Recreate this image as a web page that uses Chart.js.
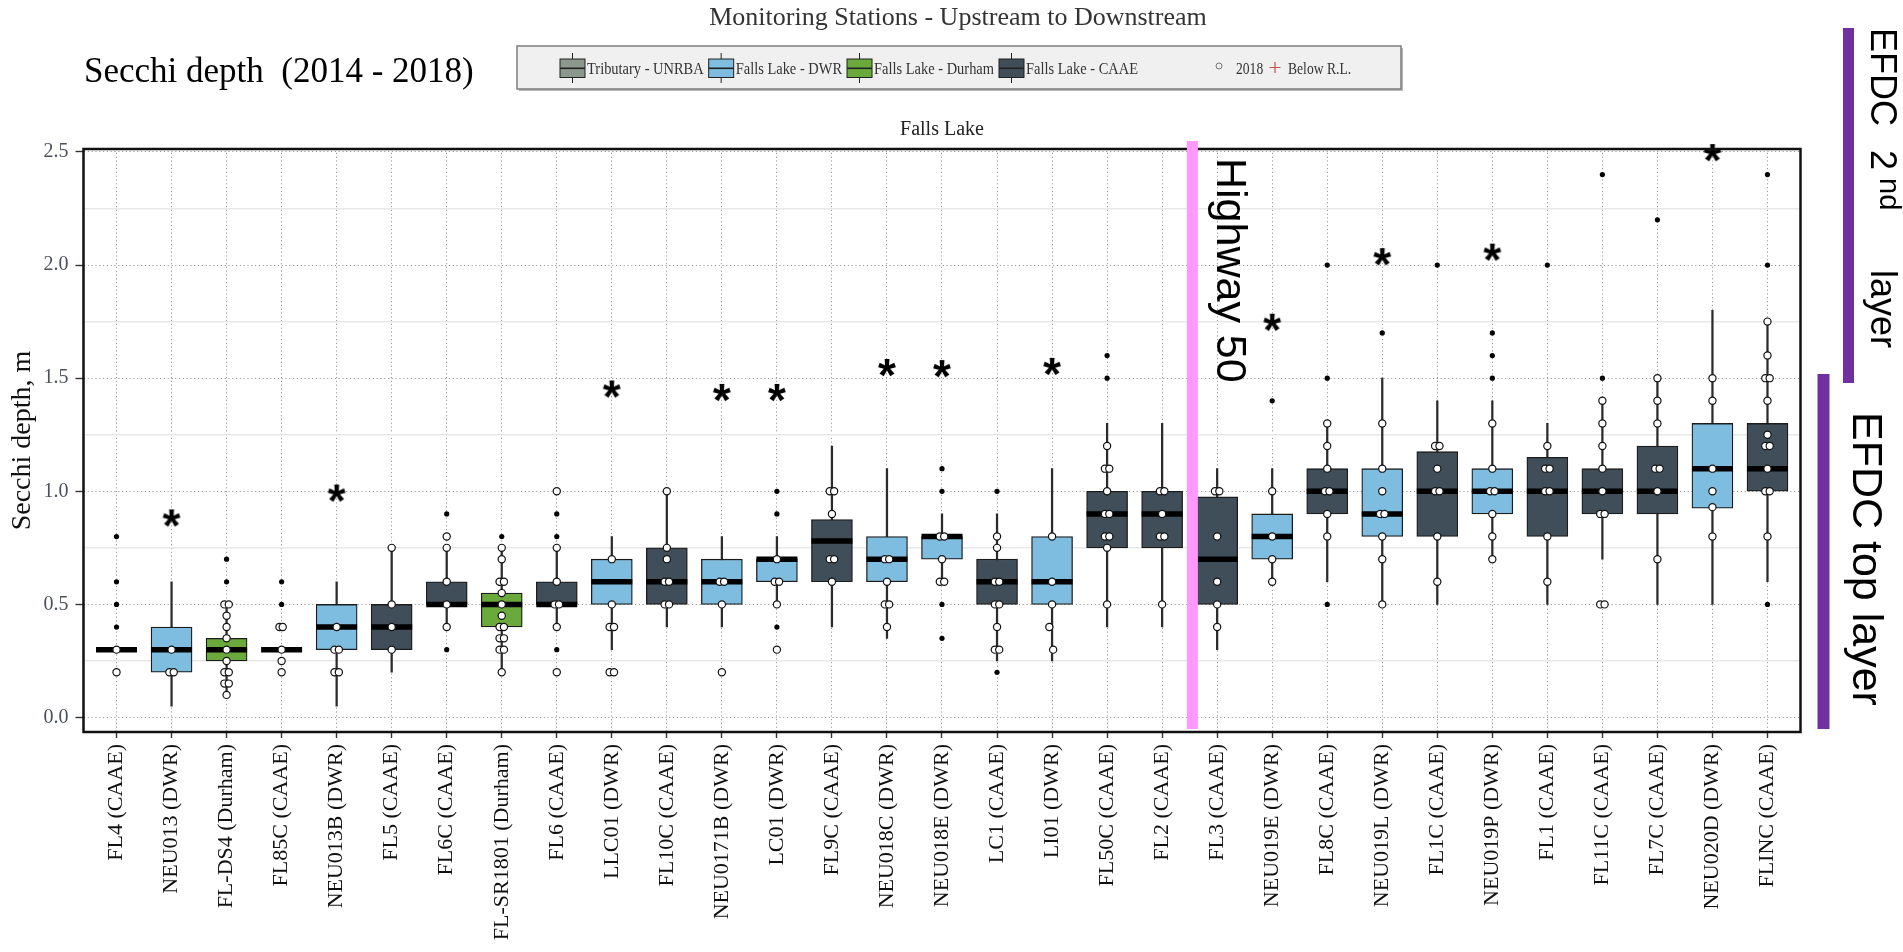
<!DOCTYPE html>
<html lang="en">
<head>
<meta charset="UTF-8">
<title>Secchi depth (2014 - 2018)</title>
<script src="https://cdn.jsdelivr.net/npm/chart.js"></script>
<style>
  html, body { margin: 0; padding: 0; background: #fff; }
  #wrap { width: 1903px; height: 952px; position: relative; }
</style>
</head>
<body>
<div id="wrap"><canvas id="secchiChart"></canvas></div>
<script>
// monitoring stations, upstream to downstream
const stations = ['FL4 (CAAE)', 'NEU013 (DWR)', 'FL-DS4 (Durham)', 'FL85C (CAAE)', 'NEU013B (DWR)',
  'FL5 (CAAE)', 'FL6C (CAAE)', 'FL-SR1801 (Durham)', 'FL6 (CAAE)', 'LLC01 (DWR)', 'FL10C (CAAE)',
  'NEU0171B (DWR)', 'LC01 (DWR)', 'FL9C (CAAE)', 'NEU018C (DWR)', 'NEU018E (DWR)', 'LC1 (CAAE)',
  'LI01 (DWR)', 'FL50C (CAAE)', 'FL2 (CAAE)', 'FL3 (CAAE)', 'NEU019E (DWR)', 'FL8C (CAAE)',
  'NEU019L (DWR)', 'FL1C (CAAE)', 'NEU019P (DWR)', 'FL1 (CAAE)', 'FL11C (CAAE)', 'FL7C (CAAE)',
  'NEU020D (DWR)', 'FLINC (CAAE)'];
const agency = ['CAAE', 'DWR', 'Durham', 'CAAE', 'DWR', 'CAAE', 'CAAE', 'Durham', 'CAAE', 'DWR', 'CAAE',
  'DWR', 'DWR', 'CAAE', 'DWR', 'DWR', 'CAAE', 'DWR', 'CAAE', 'CAAE', 'CAAE', 'DWR', 'CAAE',
  'DWR', 'CAAE', 'DWR', 'CAAE', 'CAAE', 'CAAE', 'DWR', 'CAAE'];

// box statistics, m
const q1 =          [0.3, 0.2, 0.25, 0.3, 0.3, 0.3, 0.5, 0.4, 0.5, 0.5, 0.5, 0.5, 0.6, 0.6, 0.6, 0.7, 0.5, 0.5, 0.75, 0.75, 0.5, 0.7, 0.9, 0.8, 0.8, 0.9, 0.8, 0.9, 0.9, 0.925, 1.0];
const median =      [0.3, 0.3, 0.3, 0.3, 0.4, 0.4, 0.5, 0.5, 0.5, 0.6, 0.6, 0.6, 0.7, 0.78, 0.7, 0.8, 0.6, 0.6, 0.9, 0.9, 0.7, 0.8, 1.0, 0.9, 1.0, 1.0, 1.0, 1.0, 1.0, 1.1, 1.1];
const q3 =          [0.3, 0.4, 0.35, 0.3, 0.5, 0.5, 0.6, 0.55, 0.6, 0.7, 0.75, 0.7, 0.7, 0.875, 0.8, 0.8, 0.7, 0.8, 1.0, 1.0, 0.975, 0.9, 1.1, 1.1, 1.175, 1.1, 1.15, 1.1, 1.2, 1.3, 1.3];
const whiskerLow =  [0.3, 0.05, 0.1, 0.3, 0.05, 0.2, 0.4, 0.2, 0.4, 0.3, 0.4, 0.4, 0.5, 0.4, 0.35, 0.6, 0.25, 0.25, 0.4, 0.4, 0.3, 0.6, 0.6, 0.5, 0.5, 0.7, 0.5, 0.7, 0.5, 0.5, 0.6];
const whiskerHigh = [0.3, 0.6, 0.5, 0.3, 0.6, 0.75, 0.75, 0.75, 0.75, 0.8, 1.0, 0.8, 0.8, 1.2, 1.1, 0.9, 0.9, 1.1, 1.3, 1.3, 1.1, 1.1, 1.3, 1.5, 1.4, 1.4, 1.3, 1.4, 1.5, 1.8, 1.75];

// outliers [station index, value]
const outliers = [[0, 0.8], [0, 0.6], [0, 0.5], [0, 0.4], [2, 0.7], [2, 0.6], [3, 0.6], [3, 0.5],
  [6, 0.9], [6, 0.3], [7, 0.8], [8, 0.9], [8, 0.8], [8, 0.3], [12, 1.0], [12, 0.9], [12, 0.4],
  [15, 1.1], [15, 1.0], [15, 0.5], [15, 0.35], [16, 1.0], [16, 0.3], [16, 0.2], [18, 1.6], [18, 1.5],
  [21, 1.4], [22, 2.0], [22, 1.5], [22, 0.5], [23, 1.7], [24, 2.0], [25, 1.7], [25, 1.6], [25, 1.5],
  [26, 2.0], [27, 2.4], [27, 1.5], [28, 2.2], [30, 2.4], [30, 2.0], [30, 0.5]];

// 2018 samples [station position, value]
const samples2018 = [
  [0, 0.3], [0, 0.2],
  [1, 0.3], [0.96, 0.2], [1.04, 0.2],
  [1.96, 0.5], [2.04, 0.5], [2, 0.45], [2, 0.4], [2, 0.35], [2, 0.3], [2, 0.25], [1.96, 0.2], [2.04, 0.2], [1.96, 0.15], [2.04, 0.15], [2, 0.1],
  [2.96, 0.4], [3.02, 0.4], [3, 0.3], [3, 0.25], [3, 0.2],
  [4, 0.4], [3.96, 0.3], [4.04, 0.3], [3.96, 0.2], [4.04, 0.2],
  [5, 0.75], [5, 0.5], [5, 0.4], [5, 0.3],
  [6, 0.8], [6, 0.75], [6, 0.6], [6, 0.5], [6, 0.4],
  [7, 0.75], [7, 0.7], [6.96, 0.6], [7.04, 0.6], [7, 0.55], [7, 0.5], [7, 0.45], [6.96, 0.4], [7.04, 0.4], [6.96, 0.35], [7.04, 0.35], [6.96, 0.3], [7.04, 0.3], [7, 0.2],
  [8, 1.0], [8, 0.75], [8, 0.6], [7.96, 0.5], [8.04, 0.5], [8, 0.4], [8, 0.2],
  [9, 0.7], [9, 0.5], [8.96, 0.4], [9.04, 0.4], [8.96, 0.2], [9.04, 0.2],
  [10, 1.0], [10, 0.75], [10, 0.7], [9.96, 0.6], [10.04, 0.6], [9.96, 0.5], [10.04, 0.5],
  [10.96, 0.6], [11.04, 0.6], [11, 0.5], [11, 0.2],
  [12, 0.7], [11.96, 0.6], [12.04, 0.6], [12, 0.5], [12, 0.3],
  [12.96, 1.0], [13.04, 1.0], [13, 0.9], [12.96, 0.7], [13.04, 0.7], [13, 0.6],
  [13.96, 0.7], [14.04, 0.7], [14, 0.6], [13.96, 0.5], [14.04, 0.5], [14, 0.4],
  [14.96, 0.8], [15.04, 0.8], [15, 0.7], [14.96, 0.6], [15.04, 0.6],
  [16, 0.8], [16, 0.75], [15.96, 0.6], [16.04, 0.6], [15.96, 0.5], [16.04, 0.5], [16, 0.4], [15.96, 0.3], [16.04, 0.3],
  [17, 0.8], [17, 0.6], [17, 0.5], [16.95, 0.4], [17.02, 0.3],
  [18, 1.2], [17.96, 1.1], [18.04, 1.1], [18, 1.0], [17.96, 0.9], [18.04, 0.9], [17.96, 0.8], [18.04, 0.8], [18, 0.75], [18, 0.5],
  [18.96, 1.0], [19.04, 1.0], [19, 0.9], [18.96, 0.8], [19.04, 0.8], [19, 0.5],
  [19.96, 1.0], [20.04, 1.0], [20, 0.8], [20, 0.6], [20, 0.5], [20, 0.4],
  [21, 1.0], [21, 0.8], [21, 0.7], [21, 0.6],
  [22, 1.3], [22, 1.2], [22, 1.1], [21.96, 1.0], [22.04, 1.0], [22, 0.9], [22, 0.8],
  [23, 1.3], [23, 1.1], [23, 1.0], [22.96, 0.9], [23.04, 0.9], [23, 0.8], [23, 0.7], [23, 0.5],
  [23.96, 1.2], [24.04, 1.2], [24, 1.1], [23.96, 1.0], [24.04, 1.0], [24, 0.8], [24, 0.6],
  [25, 1.3], [25, 1.1], [24.96, 1.0], [25.04, 1.0], [25, 0.9], [25, 0.8], [25, 0.7],
  [26, 1.2], [25.96, 1.1], [26.04, 1.1], [25.96, 1.0], [26.04, 1.0], [26, 0.8], [26, 0.6],
  [27, 1.4], [27, 1.3], [27, 1.2], [27, 1.1], [27, 1.0], [26.96, 0.9], [27.04, 0.9], [26.96, 0.5], [27.04, 0.5],
  [28, 1.5], [28, 1.4], [28, 1.3], [27.96, 1.1], [28.04, 1.1], [28, 1.0], [28, 0.7],
  [29, 1.5], [29, 1.4], [29, 1.1], [29, 1.0], [29, 0.93], [29, 0.8],
  [30, 1.75], [30, 1.6], [29.96, 1.5], [30.04, 1.5], [30, 1.4], [30, 1.25], [29.96, 1.2], [30.04, 1.2], [30, 1.1], [29.96, 1.0], [30.04, 1.0], [30, 0.8]
];

// asterisk flags above DWR stations
const flagStations = [1, 4, 9, 11, 12, 14, 15, 17, 21, 23, 25, 29];
const flagLevels = [0.88, 0.99, 1.45, 1.435, 1.435, 1.545, 1.54, 1.55, 1.745, 2.035, 2.055, 2.495];

const yTicks = [0, 0.5, 1.0, 1.5, 2.0, 2.5];
const yMinorTicks = [0.25, 0.75, 1.25, 1.75, 2.25];
const highwayAt = 19.55;

const legendLabels = ['Tributary - UNRBA', 'Falls Lake - DWR', 'Falls Lake - Durham', 'Falls Lake - CAAE'];
const legendColors = ['#8a998c', '#7ebce0', '#6aaa3c', '#3f4e58'];
const agencyColors = { DWR: '#7ebce0', CAAE: '#3f4e58', Durham: '#6aaa3c' };

const SERIF = '"Liberation Serif", "Times New Roman", serif';
const SANS = '"Liberation Sans", Arial, sans-serif';

function makeAsterisk() {
  const c = document.createElement('canvas');
  c.width = 36; c.height = 36;
  const g = c.getContext('2d');
  g.font = 'bold 46px ' + SANS;
  const m = g.measureText('*');
  const w = m.actualBoundingBoxRight + m.actualBoundingBoxLeft;
  const h = m.actualBoundingBoxAscent + m.actualBoundingBoxDescent;
  g.fillStyle = '#000';
  g.fillText('*', 18 - w / 2 + m.actualBoundingBoxLeft, 18 - h / 2 + m.actualBoundingBoxAscent);
  return c;
}

function rotText(ctx, text, x, y, angle, font, color, align) {
  ctx.save();
  ctx.translate(x, y);
  ctx.rotate(angle);
  ctx.font = font;
  ctx.fillStyle = color;
  ctx.textAlign = align || 'left';
  ctx.textBaseline = 'alphabetic';
  ctx.fillText(text, 0, 0);
  ctx.restore();
}

function legendIcon(ctx, x, color) {
  ctx.strokeStyle = '#222';
  ctx.lineWidth = 1;
  ctx.beginPath(); ctx.moveTo(x + 12.5, 53); ctx.lineTo(x + 12.5, 83); ctx.stroke();
  ctx.fillStyle = color;
  ctx.fillRect(x, 59, 25, 18.5);
  ctx.strokeRect(x, 59, 25, 18.5);
  ctx.lineWidth = 1.6;
  ctx.beginPath(); ctx.moveTo(x, 68.3); ctx.lineTo(x + 25, 68.3); ctx.stroke();
}

function condensedText(ctx, text, x, y, font, color, sx) {
  ctx.save();
  ctx.translate(x, y);
  ctx.scale(sx, 1);
  ctx.font = font;
  ctx.fillStyle = color;
  ctx.textAlign = 'left';
  ctx.textBaseline = 'alphabetic';
  ctx.fillText(text, 0, 0);
  const w = ctx.measureText(text).width * sx;
  ctx.restore();
  return w;
}

const decor = {
  id: 'decor',
  afterDraw(chart) {
    const { ctx, chartArea: a, scales } = chart;
    ctx.save();

    // plot frame
    ctx.strokeStyle = '#111';
    ctx.lineWidth = 2.5;
    ctx.strokeRect(a.left, a.top, a.right - a.left, a.bottom - a.top);

    // titles
    ctx.textBaseline = 'alphabetic';
    ctx.fillStyle = '#333';
    ctx.font = '26px ' + SERIF;
    ctx.textAlign = 'center';
    ctx.fillText('Monitoring Stations - Upstream to Downstream', 958, 25);
    ctx.fillStyle = '#000';
    ctx.font = '35px ' + SERIF;
    ctx.textAlign = 'left';
    ctx.fillText('Secchi depth  (2014 - 2018)', 84, 82);
    ctx.fillStyle = '#222';
    ctx.font = '20px ' + SERIF;
    ctx.textAlign = 'center';
    ctx.fillText('Falls Lake', (a.left + a.right) / 2, 135);
    ctx.textAlign = 'left';
    rotText(ctx, 'Secchi depth, m', 30, (a.top + a.bottom) / 2, -Math.PI / 2, '28px ' + SERIF, '#111', 'center');

    // legend box
    ctx.fillStyle = '#b8b8b8';
    ctx.fillRect(519, 48, 884, 43);
    ctx.fillStyle = '#f0f0f0';
    ctx.fillRect(517, 46, 884, 43);
    ctx.strokeStyle = '#7d7d7d';
    ctx.lineWidth = 1.5;
    ctx.strokeRect(517, 46, 884, 43);
    let lx = 560;
    legendLabels.forEach((lab, k) => {
      legendIcon(ctx, lx, legendColors[k]);
      const w = condensedText(ctx, lab, lx + 27, 74, '17px ' + SERIF, '#333', 0.85);
      lx += 27 + w + 5;
    });
    ctx.strokeStyle = '#777';
    ctx.lineWidth = 1;
    ctx.beginPath(); ctx.arc(1219, 66, 3, 0, Math.PI * 2); ctx.stroke();
    condensedText(ctx, '2018', 1236, 74, '16px ' + SERIF, '#333', 0.85);
    ctx.strokeStyle = '#c0504d';
    ctx.lineWidth = 1.2;
    ctx.beginPath();
    ctx.moveTo(1275, 62); ctx.lineTo(1275, 73);
    ctx.moveTo(1269.5, 67.5); ctx.lineTo(1280.5, 67.5);
    ctx.stroke();
    condensedText(ctx, 'Below R.L.', 1288, 74, '16px ' + SERIF, '#333', 0.85);

    // Highway 50 marker
    const hx = scales.x.getPixelForValue(highwayAt);
    ctx.fillStyle = '#ff99ff';
    ctx.fillRect(hx - 5.5, a.top - 8, 11, a.bottom - a.top + 5);
    rotText(ctx, 'Highway 50', hx + 25, a.top + 9, Math.PI / 2, '43px ' + SANS, '#000');

    // EFDC layer markers
    ctx.fillStyle = '#7030a0';
    ctx.fillRect(1843, 28, 11, 355);
    ctx.fillRect(1817.5, 374, 12, 355);
    rotText(ctx, 'EFDC top layer', 1853, 412, Math.PI / 2, '43px ' + SANS, '#000');
    ctx.save();
    ctx.translate(1871, 28);
    ctx.rotate(Math.PI / 2);
    ctx.textAlign = 'left';
    ctx.textBaseline = 'alphabetic';
    ctx.fillStyle = '#000';
    ctx.font = '36px ' + SANS;
    ctx.fillText('EFDC', 0, 0);
    ctx.fillText('2', 122, 0);
    ctx.font = '29px ' + SANS;
    ctx.fillText('nd', 150, -9);
    ctx.font = '36px ' + SANS;
    ctx.fillText('layer', 242, 0);
    ctx.restore();

    ctx.restore();
  }
};

const dotted = [1.2, 2.6];

new Chart(document.getElementById('secchiChart'), {
  type: 'bar',
  data: {
    datasets: [
      {
        label: 'whisker',
        data: stations.map((_, i) => ({ x: i, y: [whiskerLow[i], whiskerHigh[i]] })),
        backgroundColor: '#2b2b2b',
        barThickness: 1.6,
        grouped: false,
        order: 5
      },
      {
        label: 'box',
        data: stations.map((_, i) => ({ x: i, y: [q1[i], q3[i]] })),
        backgroundColor: agency.map(a => agencyColors[a]),
        borderColor: '#1c1c1c',
        borderWidth: 1.3,
        borderSkipped: false,
        barThickness: 41,
        grouped: false,
        order: 4
      },
      {
        type: 'scatter',
        label: 'median',
        data: stations.map((_, i) => ({ x: i, y: median[i] })),
        pointStyle: 'line',
        pointRadius: 20.5,
        pointBorderColor: '#000',
        pointBorderWidth: 5.5,
        order: 3
      },
      {
        type: 'scatter',
        label: 'outlier',
        data: outliers.map(([x, y]) => ({ x, y })),
        pointRadius: 2.6,
        pointBackgroundColor: '#000',
        pointBorderColor: '#000',
        pointBorderWidth: 0,
        order: 2
      },
      {
        type: 'scatter',
        label: '2018',
        data: samples2018.map(([x, y]) => ({ x, y })),
        pointRadius: 3.6,
        pointBackgroundColor: '#fff',
        pointBorderColor: '#111',
        pointBorderWidth: 1.2,
        order: 1
      },
      {
        type: 'scatter',
        label: 'flag',
        data: flagStations.map((x, k) => ({ x, y: flagLevels[k] })),
        pointStyle: makeAsterisk(),
        pointRadius: 10,
        clip: false,
        order: 0
      }
    ]
  },
  options: {
    responsive: true,
    maintainAspectRatio: false,
    animation: false,
    events: [],
    layout: { padding: { top: 149, right: 102.5, bottom: 0, left: 0 } },
    plugins: {
      legend: { display: false },
      tooltip: { enabled: false }
    },
    scales: {
      x: {
        type: 'linear',
        min: -0.6,
        max: 30.6,
        offset: false,
        afterBuildTicks: s => { s.ticks = stations.map((_, i) => ({ value: i })); },
        afterFit: s => { s.height = 220; },
        grid: { offset: false, color: '#9a9a9a', lineWidth: 1, tickColor: '#333', tickLength: 6, tickWidth: 1.4 },
        border: { display: false, dash: dotted },
        ticks: {
          autoSkip: false,
          minRotation: 90,
          maxRotation: 90,
          padding: 6,
          color: '#111',
          font: { family: SERIF, size: 22 },
          callback: (v, i) => stations[i]
        }
      },
      y: {
        min: -0.064,
        max: 2.513,
        afterBuildTicks: s => { s.ticks = yTicks.map(v => ({ value: v })); },
        afterFit: s => { s.width = 83.5; },
        grid: { color: '#9a9a9a', lineWidth: 1, tickColor: '#333', tickLength: 8, tickWidth: 1.4 },
        border: { display: false, dash: dotted },
        ticks: {
          padding: 7,
          color: '#4b505a',
          font: { family: SERIF, size: 20 },
          callback: v => Number(v).toFixed(1)
        }
      },
      yMinor: {
        type: 'linear',
        position: 'left',
        min: -0.064,
        max: 2.513,
        afterBuildTicks: s => { s.ticks = yMinorTicks.map(v => ({ value: v })); },
        afterFit: s => { s.width = 0; },
        grid: { color: '#e8e8e8', lineWidth: 1.5, drawTicks: false },
        border: { display: false },
        ticks: { display: false }
      }
    }
  },
  plugins: [decor]
});
</script>
</body>
</html>
